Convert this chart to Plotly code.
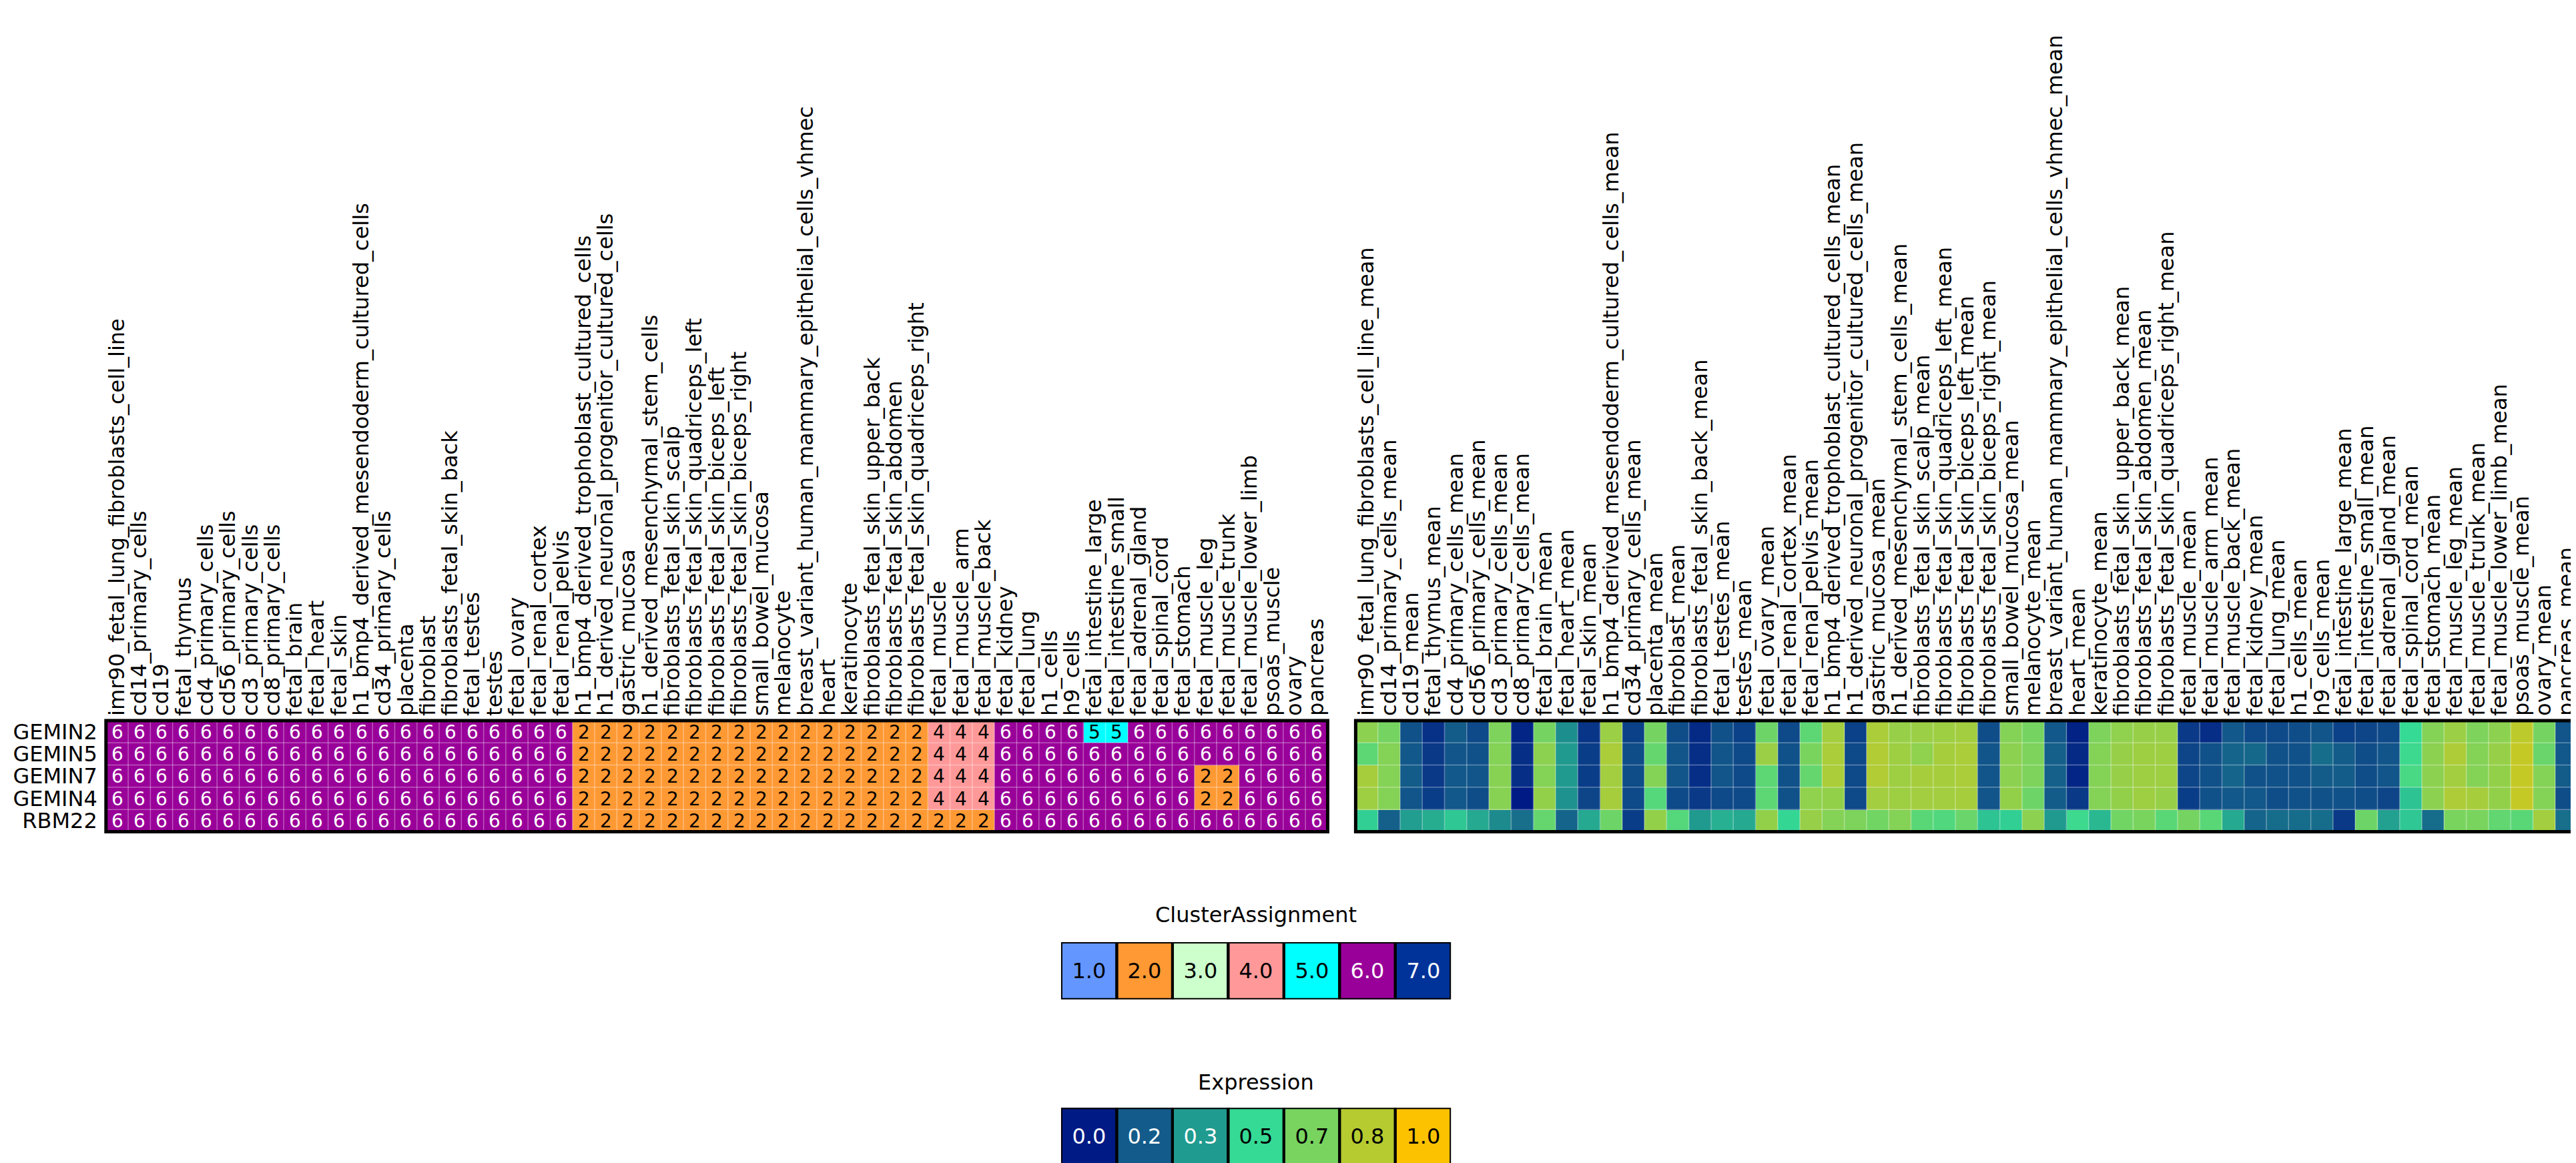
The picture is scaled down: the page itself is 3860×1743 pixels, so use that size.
import plotly.graph_objects as go

# ---------------- data ----------------
genes = ["GEMIN2", "GEMIN5", "GEMIN7", "GEMIN4", "RBM22"]

samples = [
    "imr90_fetal_lung_fibroblasts_cell_line", "cd14_primary_cells", "cd19", "fetal_thymus",
    "cd4_primary_cells", "cd56_primary_cells", "cd3_primary_cells", "cd8_primary_cells",
    "fetal_brain", "fetal_heart", "fetal_skin", "h1_bmp4_derived_mesendoderm_cultured_cells",
    "cd34_primary_cells", "placenta", "fibroblast", "fibroblasts_fetal_skin_back",
    "fetal_testes", "testes", "fetal_ovary", "fetal_renal_cortex", "fetal_renal_pelvis",
    "h1_bmp4_derived_trophoblast_cultured_cells", "h1_derived_neuronal_progenitor_cultured_cells",
    "gastric_mucosa", "h1_derived_mesenchymal_stem_cells", "fibroblasts_fetal_skin_scalp",
    "fibroblasts_fetal_skin_quadriceps_left", "fibroblasts_fetal_skin_biceps_left",
    "fibroblasts_fetal_skin_biceps_right", "small_bowel_mucosa", "melanocyte",
    "breast_variant_human_mammary_epithelial_cells_vhmec", "heart", "keratinocyte",
    "fibroblasts_fetal_skin_upper_back", "fibroblasts_fetal_skin_abdomen",
    "fibroblasts_fetal_skin_quadriceps_right", "fetal_muscle", "fetal_muscle_arm",
    "fetal_muscle_back", "fetal_kidney", "fetal_lung", "h1_cells", "h9_cells",
    "fetal_intestine_large", "fetal_intestine_small", "fetal_adrenal_gland",
    "fetal_spinal_cord", "fetal_stomach", "fetal_muscle_leg", "fetal_muscle_trunk",
    "fetal_muscle_lower_limb", "psoas_muscle", "ovary", "pancreas",
]
mean_labels = [s + "_mean" for s in samples]

cluster_GEMIN2 = [6]*21 + [2]*16 + [4, 4, 4] + [6, 6, 6, 6, 5, 5, 6, 6, 6, 6, 6, 6, 6, 6, 6]
cluster_GEMIN5 = [6]*21 + [2]*16 + [4, 4, 4] + [6]*15
cluster_GEMIN7 = [6]*21 + [2]*16 + [4, 4, 4] + [6, 6, 6, 6, 6, 6, 6, 6, 6, 2, 2, 6, 6, 6, 6]
cluster_GEMIN4 = [6]*21 + [2]*16 + [4, 4, 4] + [6, 6, 6, 6, 6, 6, 6, 6, 6, 2, 2, 6, 6, 6, 6]
cluster_RBM22 = [6]*21 + [2]*16 + [2, 2, 2] + [6]*15

expr_GEMIN2 = [.72, .66, .14, .06, .17, .12, .68, .03, .66, .30, .07, .76, .10, .66, .13, .04, .14, .10, .64, .12,
               .60, .78, .10, .80, .75, .76, .77, .78, .13, .70, .66, .16, .02, .68, .73, .75, .75, .08, .05, .16,
               .12, .12, .13, .15, .10, .11, .12, .50, .70, .76, .68, .72, .85, .66, .15]
expr_GEMIN5 = [.60, .70, .16, .08, .15, .14, .70, .05, .72, .33, .09, .80, .13, .62, .15, .05, .15, .12, .76, .14,
               .67, .80, .12, .82, .77, .73, .79, .80, .15, .72, .68, .18, .04, .70, .75, .77, .77, .11, .14, .19,
               .20, .14, .14, .21, .17, .13, .15, .52, .72, .81, .70, .75, .87, .63, .16]
expr_GEMIN7 = [.79, .70, .17, .08, .16, .15, .71, .05, .70, .33, .09, .78, .13, .70, .15, .05, .15, .12, .60, .14,
               .62, .80, .12, .82, .77, .79, .79, .80, .15, .72, .68, .18, .03, .70, .75, .77, .77, .11, .14, .19,
               .14, .14, .14, .17, .17, .13, .15, .55, .72, .78, .70, .74, .87, .70, .17]
expr_GEMIN4 = [.77, .70, .15, .09, .16, .13, .71, .00, .74, .31, .11, .79, .12, .58, .12, .08, .12, .12, .60, .14,
               .73, .74, .12, .78, .77, .78, .78, .79, .15, .74, .64, .17, .08, .70, .74, .77, .75, .09, .14, .16,
               .16, .13, .14, .14, .14, .13, .11, .44, .72, .81, .79, .74, .87, .70, .13]
expr_RBM22 = [.47, .18, .34, .38, .45, .37, .29, .22, .62, .19, .37, .64, .09, .74, .58, .33, .39, .37, .74, .49,
              .75, .70, .68, .65, .70, .59, .57, .63, .44, .47, .72, .33, .52, .41, .65, .67, .59, .66, .59, .37,
              .19, .21, .21, .21, .08, .64, .35, .45, .21, .67, .67, .61, .59, .78, .22, .50]

cluster_levels = [1.0, 2.0, 3.0, 4.0, 5.0, 6.0, 7.0]
cluster_colors = ["#6496FF", "#FF9933", "#CCFFCC", "#FF9999", "#00FFFF", "#990099", "#003399"]
cluster_dark = [6.0, 7.0]          # levels drawn with white text
expr_levels = ["0.0", "0.2", "0.3", "0.5", "0.7", "0.8", "1.0"]
expr_colors = ["#001A85", "#135B8A", "#209B8F", "#35DA94", "#78D45F", "#B6CB30", "#FCC200"]
expr_dark = ["0.0", "0.2", "0.3"]  # legend boxes drawn with white text

cluster_matrix = [cluster_GEMIN2, cluster_GEMIN5, cluster_GEMIN7, cluster_GEMIN4, cluster_RBM22]
expr_matrix = [expr_GEMIN2, expr_GEMIN5, expr_GEMIN7, expr_GEMIN4, expr_RBM22]

# ---------------- layout constants ----------------
W, H = 3860, 1743
FONT = "DejaVu Sans"


def px_x(a, b):
    return [a / W, b / W]


def px_y(top, bottom):
    return [1 - bottom / H, 1 - top / H]


n = len(samples)
nc = len(cluster_levels)
cluster_scale = []
for i, c in enumerate(cluster_colors):
    cluster_scale.append([i / nc, c])
    cluster_scale.append([(i + 1) / nc, c])
expr_scale = [[i / (len(expr_colors) - 1), c] for i, c in enumerate(expr_colors)]

fig = go.Figure()

# cluster heatmap: split into white-text (dark cells) and black-text (light cells) layers
for is_dark, tcolor in ((True, "white"), (False, "black")):
    zz, tt = [], []
    for row in cluster_matrix:
        zr, tr = [], []
        for v in row:
            keep = (v in cluster_dark) == is_dark
            zr.append(v if keep else None)
            tr.append(str(v) if keep else "")
        zz.append(zr)
        tt.append(tr)
    fig.add_trace(go.Heatmap(
        z=zz, x=list(range(n)), y=list(range(len(genes))),
        text=tt, texttemplate="%{text}",
        textfont=dict(family=FONT, size=28, color=tcolor),
        colorscale=cluster_scale, zmin=0.5, zmax=nc + 0.5, showscale=False,
        xaxis="x", yaxis="y", hoverinfo="skip"))

fig.add_trace(go.Heatmap(
    z=expr_matrix, x=list(range(n)), y=list(range(len(genes))),
    colorscale=expr_scale, zmin=0, zmax=1, showscale=False,
    xaxis="x2", yaxis="y2", hoverinfo="skip"))

# legend strips
for is_dark, tcolor in ((True, "white"), (False, "black")):
    zr = [v if ((v in cluster_dark) == is_dark) else None for v in cluster_levels]
    tr = ["%.1f" % v if ((v in cluster_dark) == is_dark) else "" for v in cluster_levels]
    fig.add_trace(go.Heatmap(
        z=[zr], x=list(range(nc)), y=[0], text=[tr], texttemplate="%{text}",
        textfont=dict(family=FONT, size=32, color=tcolor),
        colorscale=cluster_scale, zmin=0.5, zmax=nc + 0.5, showscale=False,
        xaxis="x3", yaxis="y3", hoverinfo="skip"))

ne = len(expr_levels)
expr_pos = [i / (ne - 1) for i in range(ne)]
for is_dark, tcolor in ((True, "white"), (False, "black")):
    zr = [p if ((lab in expr_dark) == is_dark) else None for p, lab in zip(expr_pos, expr_levels)]
    tr = [lab if ((lab in expr_dark) == is_dark) else "" for lab in expr_levels]
    fig.add_trace(go.Heatmap(
        z=[zr], x=list(range(ne)), y=[0], text=[tr], texttemplate="%{text}",
        textfont=dict(family=FONT, size=32, color=tcolor),
        colorscale=expr_scale, zmin=0, zmax=1, showscale=False,
        xaxis="x4", yaxis="y4", hoverinfo="skip"))

heat_y = px_y(1073, 1240)
common_x = dict(showgrid=False, zeroline=False, ticks="", side="top", tickangle=-90,
                tickfont=dict(family=FONT, size=32, color="black"), range=[-0.5, n - 0.5],
                tickmode="array", tickvals=list(range(n)), ticklabelstandoff=6, showline=False)

hidden = dict(visible=False, showgrid=False, zeroline=False)

fig.update_layout(
    width=W, height=H, autosize=False,
    margin=dict(l=0, r=0, t=0, b=0),
    paper_bgcolor="white", plot_bgcolor="white",
    font=dict(family=FONT, size=32, color="black"),
    xaxis=dict(domain=px_x(148, 1981), anchor="y", ticktext=samples, **common_x),
    yaxis=dict(domain=heat_y, anchor="x", range=[len(genes) - 0.5, -0.5],
               tickmode="array", tickvals=list(range(len(genes))), ticktext=genes,
               tickfont=dict(family=FONT, size=32, color="black"), ticks="",
               ticklabelstandoff=12, showgrid=False, zeroline=False),
    xaxis2=dict(domain=px_x(2023, 3856), anchor="y2", ticktext=mean_labels, **common_x),
    yaxis2=dict(domain=heat_y, anchor="x2", range=[len(genes) - 0.5, -0.5],
                showticklabels=False, showgrid=False, zeroline=False),
    xaxis3=dict(domain=px_x(1581, 2166), anchor="y3", range=[-0.5, nc - 0.5], **hidden),
    yaxis3=dict(domain=px_y(1406, 1492), anchor="x3", range=[-0.5, 0.5], **hidden),
    xaxis4=dict(domain=px_x(1581, 2166), anchor="y4", range=[-0.5, ne - 0.5], **hidden),
    yaxis4=dict(domain=px_y(1655, 1741), anchor="x4", range=[-0.5, 0.5], **hidden),
)

shapes = []
grid_line = dict(color="rgba(255,255,255,0.35)", width=1.5)
for xa, ya in (("x", "y"), ("x2", "y2")):
    for k in range(1, n):
        shapes.append(dict(type="line", xref=xa, yref=ya, x0=k - 0.5, x1=k - 0.5,
                           y0=-0.5, y1=len(genes) - 0.5, line=grid_line, layer="above"))
    for r in range(1, len(genes)):
        shapes.append(dict(type="line", xref=xa, yref=ya, x0=-0.5, x1=n - 0.5,
                           y0=r - 0.5, y1=r - 0.5, line=grid_line, layer="above"))
    shapes.append(dict(type="rect", xref=xa + " domain", yref=ya + " domain", x0=0, x1=1, y0=0, y1=1,
                       line=dict(color="black", width=5), fillcolor="rgba(0,0,0,0)", layer="above"))
for xa, ya, cnt in (("x3", "y3", nc), ("x4", "y4", ne)):
    for i in range(cnt):
        shapes.append(dict(type="rect", xref=xa, yref=ya, x0=i - 0.5, x1=i + 0.5, y0=-0.5, y1=0.5,
                           line=dict(color="black", width=4), fillcolor="rgba(0,0,0,0)", layer="above"))
fig.update_layout(shapes=shapes)

fig.add_annotation(text="ClusterAssignment", xref="paper", yref="paper", x=1873 / W, y=1 - 1365 / H,
                   showarrow=False, font=dict(family=FONT, size=32, color="black"),
                   xanchor="center", yanchor="middle")
fig.add_annotation(text="Expression", xref="paper", yref="paper", x=1873 / W, y=1 - 1617 / H,
                   showarrow=False, font=dict(family=FONT, size=32, color="black"),
                   xanchor="center", yanchor="middle")

fig.write_html("out.html")
